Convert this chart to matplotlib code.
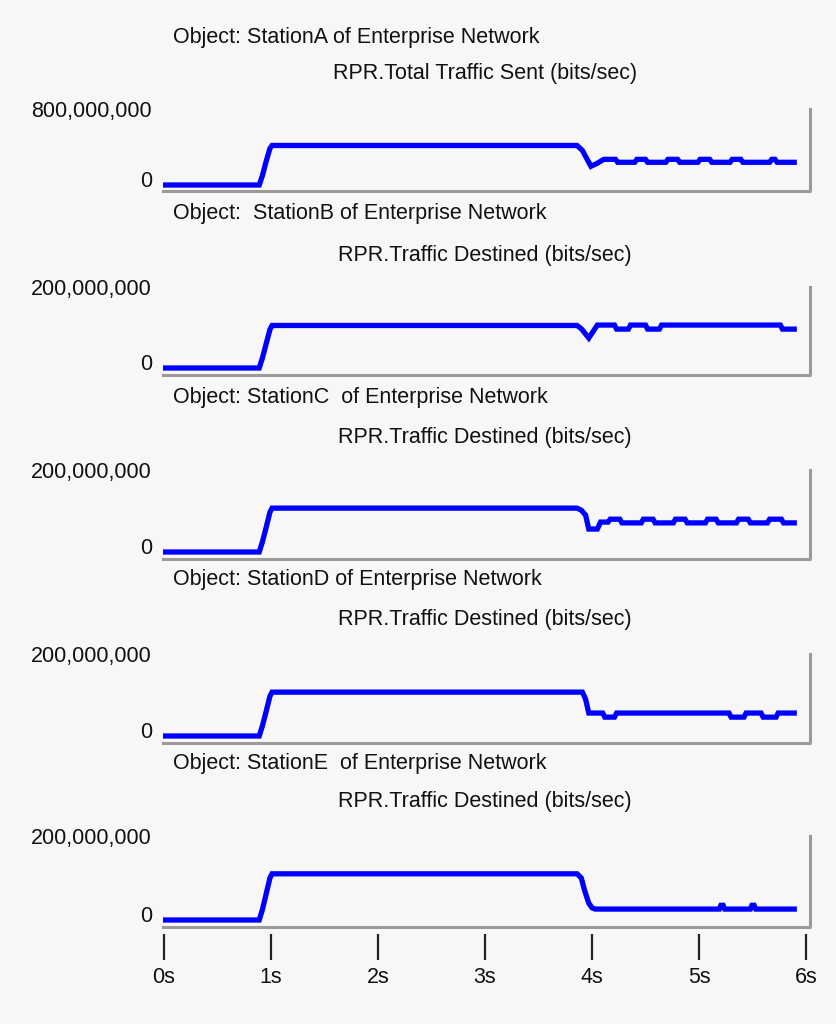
import matplotlib
matplotlib.use("Agg")
from matplotlib import pyplot as plt
from matplotlib import transforms

# ---- data ----
titles = [
    "Object: StationA of Enterprise Network",
    "Object:  StationB of Enterprise Network",
    "Object: StationC  of Enterprise Network",
    "Object: StationD of Enterprise Network",
    "Object: StationE  of Enterprise Network",
]
metrics = [
    "RPR.Total Traffic Sent (bits/sec)",
    "RPR.Traffic Destined (bits/sec)",
    "RPR.Traffic Destined (bits/sec)",
    "RPR.Traffic Destined (bits/sec)",
    "RPR.Traffic Destined (bits/sec)",
]
y_tops = [800e6, 200e6, 200e6, 200e6, 200e6]

t_a = [0, 0.89, 0.92, 0.95, 0.99, 1.01, 3.86, 3.91, 3.95, 3.99, 4.05, 4.11,
       4.22, 4.24, 4.40, 4.42, 4.50, 4.52, 4.69, 4.71, 4.80, 4.82, 4.99, 5.01,
       5.10, 5.12, 5.29, 5.31, 5.39, 5.41, 5.66, 5.68, 5.71, 5.73, 5.89]
v_a = [0, 0, 100e6, 230e6, 385e6, 416e6, 416e6, 364e6, 280e6, 197e6, 229e6, 270e6,
       270e6, 239e6, 239e6, 270e6, 270e6, 239e6, 239e6, 270e6, 270e6, 239e6, 239e6, 270e6,
       270e6, 239e6, 239e6, 270e6, 270e6, 239e6, 239e6, 270e6, 270e6, 239e6, 239e6]

t_b = [0, 0.89, 0.92, 0.95, 0.99, 1.01, 3.86, 3.90, 3.97, 4.05, 4.21, 4.23,
       4.34, 4.36, 4.50, 4.52, 4.63, 4.65, 5.76, 5.78, 5.89]
v_b = [0, 0, 25e6, 55e6, 95e6, 105e6, 105e6, 97e6, 74e6, 106e6, 106e6, 96e6,
       96e6, 106e6, 106e6, 96e6, 96e6, 106e6, 106e6, 96e6, 96e6]

t_c = [0, 0.89, 0.92, 0.95, 0.99, 1.01, 3.86, 3.90, 3.94, 3.97, 4.05, 4.08,
       4.15, 4.17, 4.26, 4.28, 4.46, 4.48, 4.57, 4.59, 4.76, 4.78, 4.87, 4.89,
       5.06, 5.08, 5.16, 5.18, 5.35, 5.37, 5.46, 5.48, 5.64, 5.66, 5.77, 5.79, 5.89]
v_c = [0, 0, 25e6, 55e6, 97e6, 107e6, 107e6, 102e6, 90e6, 56e6, 56e6, 73e6,
       73e6, 80e6, 80e6, 71e6, 71e6, 80e6, 80e6, 71e6, 71e6, 80e6, 80e6, 71e6,
       71e6, 80e6, 80e6, 71e6, 71e6, 80e6, 80e6, 71e6, 71e6, 80e6, 80e6, 71e6, 71e6]

t_d = [0, 0.89, 0.92, 0.95, 0.99, 1.01, 3.91, 3.94, 3.97, 4.10, 4.12, 4.21,
       4.23, 5.28, 5.30, 5.42, 5.44, 5.58, 5.60, 5.72, 5.74, 5.89]
v_d = [0, 0, 25e6, 55e6, 97e6, 107e6, 107e6, 90e6, 56e6, 56e6, 46e6, 46e6,
       56e6, 56e6, 46e6, 46e6, 56e6, 56e6, 46e6, 46e6, 56e6, 56e6]

t_e = [0, 0.89, 0.92, 0.95, 0.99, 1.01, 3.86, 3.90, 3.93, 3.97, 4.00, 4.03,
       5.19, 5.205, 5.225, 5.24, 5.48, 5.495, 5.515, 5.53, 5.89]
v_e = [0, 0, 25e6, 57e6, 100e6, 110e6, 110e6, 100e6, 71e6, 40e6, 29e6, 26e6,
       26e6, 35e6, 35e6, 26e6, 26e6, 35e6, 35e6, 26e6, 26e6]

times = [t_a, t_b, t_c, t_d, t_e]
values = [v_a, v_b, v_c, v_d, v_e]
x_ticks = [0, 1, 2, 3, 4, 5, 6]
x_labels = ["0s", "1s", "2s", "3s", "4s", "5s", "6s"]

# ---- layout in pixels ----
W, H = 837, 1024
left_px, right_px = 163, 810
x0_px, px_per_s = 164, 107
tops = [109, 287, 470, 654, 836]
zeros = [185, 368, 552, 736, 920]
bottoms = [191, 375, 559, 743, 927]
title_rows = [(37, 73), (213, 255), (397, 437), (580, 620), (763, 802)]

FONT = ["Liberation Sans", "DejaVu Sans"]
FS = 15.5
BG = "#f7f7f7"
TXT = "#111111"

plt.rcParams["font.family"] = FONT

fig = plt.figure(figsize=(W / 100, H / 100), dpi=100, facecolor=BG)

for i in range(5):
    top, zero, bot = tops[i], zeros[i], bottoms[i]
    ax = fig.add_axes([left_px / W, 1 - bot / H, (right_px - left_px) / W, (bot - top) / H])
    ax.set_facecolor("none")

    scale = (zero - top) / y_tops[i]
    ax.set_ylim(-(bot - zero) / scale, y_tops[i])
    ax.set_xlim(-(x0_px - left_px) / px_per_s, (right_px - x0_px) / px_per_s)

    ax.plot(times[i], values[i], color="#0000ff", lw=3.8, solid_joinstyle="miter")

    for s in ax.spines.values():
        s.set_visible(False)
    # grey frame: bottom + right edge
    ax.plot([0, 1, 1], [0, 0, 1], transform=ax.transAxes, color="#9a9a9a",
            lw=2.2, clip_on=False)

    ax.set_yticks([0, y_tops[i]], labels=["0", f"{y_tops[i]:,.0f}"])
    ax.tick_params(axis="y", length=0, pad=8, labelsize=FS, labelcolor=TXT)
    zlab = ax.yaxis.get_major_ticks()[0].label1
    zlab.set_transform(zlab.get_transform()
                       + transforms.ScaledTranslation(0, 6 / 100, fig.dpi_scale_trans))

    if i < 4:
        ax.set_xticks([])
    else:
        ax.spines["bottom"].set_position(("outward", 5))
        ax.set_xticks(x_ticks, labels=x_labels)
        ax.tick_params(axis="x", direction="out", length=19, width=1.6,
                       color="#222222", pad=5, labelsize=FS, labelcolor=TXT)

    r1, r2 = title_rows[i]
    fig.text(173 / W, 1 - r1 / H, titles[i], ha="left", va="center",
             fontsize=FS, color=TXT)
    fig.text(485 / W, 1 - r2 / H, metrics[i], ha="center", va="center",
             fontsize=FS, color=TXT)

fig.savefig("out.png", dpi=100, facecolor=BG)
